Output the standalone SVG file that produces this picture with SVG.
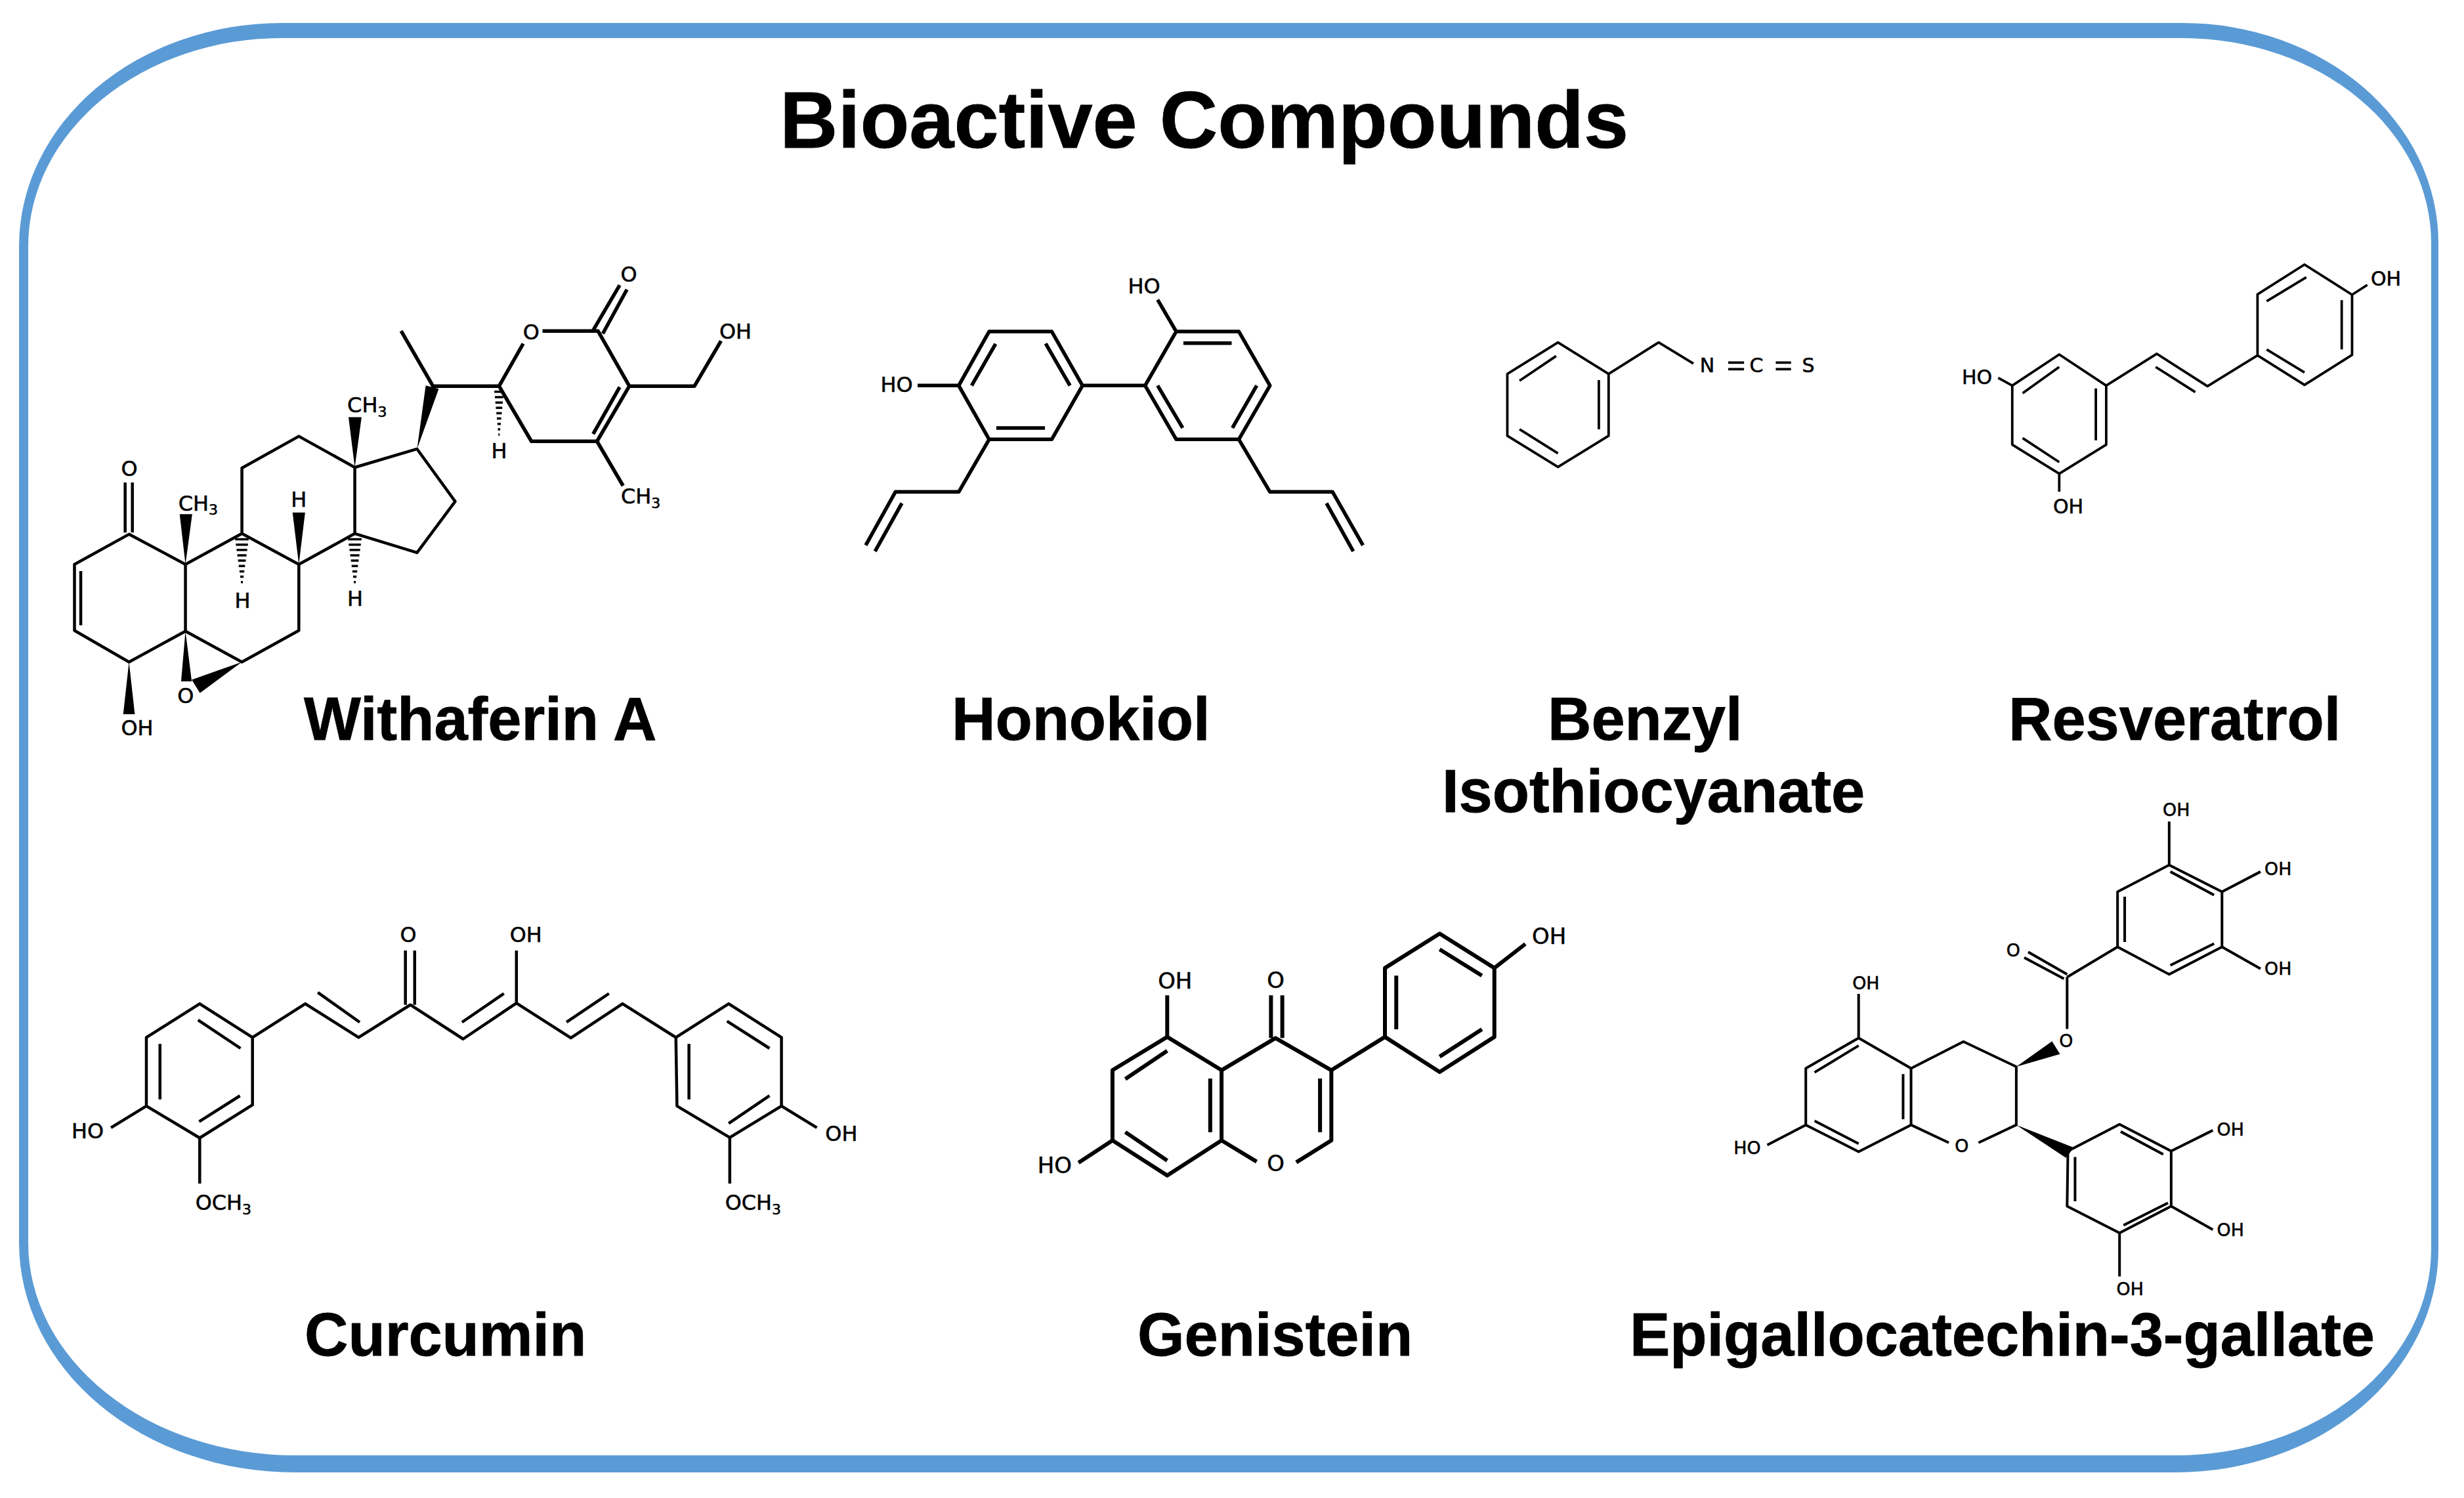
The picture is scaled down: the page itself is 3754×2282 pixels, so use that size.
<svg xmlns="http://www.w3.org/2000/svg" width="3754" height="2282" viewBox="0 0 3754 2282">
<style>
.b{fill:none;stroke:#000;stroke-width:4.5;stroke-linejoin:round;stroke-linecap:butt;vector-effect:non-scaling-stroke}
.w{fill:#000;stroke:none}
.a{font-family:"DejaVu Sans",sans-serif;fill:#000;stroke:#000;stroke-width:.6;text-anchor:middle}
.a30{font-size:30px}.a32{font-size:32px}.a34{font-size:34px}.a27{font-size:27px}
.st{text-anchor:start}
.s{font-size:22px}
.l{font-family:"Liberation Sans",Arial,sans-serif;font-weight:700;font-size:92px;fill:#000;stroke:#000;stroke-width:.8}
.t{font-family:"Liberation Sans",Arial,sans-serif;font-weight:700;font-size:122.500px;fill:#000;stroke:#000;stroke-width:.8}
</style>
<defs>
<path id="hash" class="b" style="stroke-width:3.5" d="M-14 17H14M-12.500 33H12.500M-11 49H11M-9.500 65H9.500M-8 81H8M-6.500 97H6.500M-5 113H5M-3.500 129H3.500M-2 145H2"/>
</defs>
<rect width="3754" height="2282" fill="#fff"/>
<path id="frame" fill="#5b9bd5" fill-rule="evenodd" d="M429 35H3325A390 335 0 0 1 3715 370V1903A400 340 0 0 1 3315 2243H449A420 350 0 0 1 29 1893V375A400 340 0 0 1 429 35ZM429 58A386 317 0 0 0 43 375V1893A406 324 0 0 0 449 2217H3315A389 314 0 0 0 3704 1903V370A379 312 0 0 0 3325 58Z"/>
<text id="title" class="t" x="1188" y="225">Bioactive Compounds</text>

<g id="withaferin-a">
<g transform="matrix(.9974 0 0 .993 -1.500 3)">
<g transform="translate(60 360) scale(.737 .513)">
<path class="b" d="M188 890L75 980V1178L188 1272L305 1180V980L188 890ZM305 980L422 888L540 980V1178L422 1272L305 1180M422 888V692L540 597L656 690V888L540 980M656 690L785 635L864 792L785 945L656 888M305 1180L422 1272M180 885V735M195 885V735M88 1000V1162"/>
<path class="w" d="M305 980L293 830H319ZM540 980L527 825H553ZM656 690L643 540H670ZM188 1272L176 1428H200ZM305 1180L296 1330H318ZM422 1272L318 1325L335 1365ZM785 635L803 445L830 455Z"/>
<use href="#hash" x="422" y="888"/><use href="#hash" x="656" y="888"/>
<g transform="translate(955 447) scale(.7 1)"><use href="#hash"/></g>
<path class="b" style="stroke-width:5.500" d="M752 282L818 447H955L1005 320M1045 282H1160L1225 447L1158 612H1022L955 447M1150 280L1205 145M1170 290L1220 158M1225 447H1360L1415 312M1205 450L1150 590M1160 282L1225 447M1158 612L1212 745"/>
</g>
<text class="a a32" x="199" y="727">O</text>
<text class="a a32 st" x="274" y="780">CH<tspan class="s" dy="7">3</tspan></text>
<text class="a a32" x="458" y="774">H</text>
<text class="a a32 st" x="532" y="629">CH<tspan class="s" dy="7">3</tspan></text>
<text class="a a32" x="372" y="930">H</text>
<text class="a a32" x="544" y="926">H</text>
<text class="a a32" x="764" y="700">H</text>
<text class="a a32" x="813" y="518">O</text>
<text class="a a32" x="962" y="429">O</text>
<text class="a a32" x="1125" y="517">OH</text>
<text class="a a32 st" x="950" y="769">CH<tspan class="s" dy="7">3</tspan></text>
<text class="a a32" x="285" y="1076">O</text>
<text class="a a32" x="211" y="1125">OH</text>
</g>
<text class="l" x="463" y="1127">Withaferin A</text>
</g>

<g id="honokiol">
<g transform="translate(-3 0)">
<g transform="translate(1280 380) scale(.545 .3333)">
<path class="b" style="stroke-width:5.500" d="M422 375H597L683 622L597 868H422L337 622ZM440 432L373 622M580 430L648 622M442 816H578M683 622H858M945 375H1120L1207 622L1120 868H945L858 622ZM965 428H1100M1170 622L1102 816M893 622L963 816M945 375L893 230M337 622H222M422 868L337 1108H160L77 1352M178 1160L103 1380M1120 868L1207 1108H1382L1467 1352M1365 1160L1440 1380"/>
</g>
<text class="a a32" x="1746" y="447">HO</text>
<text class="a a32" x="1369" y="597">HO</text>
</g>
<text class="l" x="1450" y="1127">Honokiol</text>
</g>

<g id="benzyl-isothiocyanate">
<g transform="translate(0 -1)">
<g transform="translate(2250 380) scale(.9295 .3333)">
<path class="b" style="stroke-width:3.800" d="M133 428L216 572V855L133 997L50 855V572ZM130 490L70 603M200 600V825M70 825L133 935M216 572L298 428L355 525M412 520H438M412 550H438M490 520H515M490 550H515"/>
</g>
<text class="a a30" x="2601" y="568">N</text>
<text class="a a30" x="2676" y="568">C</text>
<text class="a a30" x="2755" y="568">S</text>
</g>
<text class="l" x="2358" y="1127">Benzyl</text>
<text class="l" x="2197" y="1237">Isothiocyanate</text>
</g>

<g id="resveratrol">
<g transform="translate(-5 -1)">
<g transform="translate(2250 380) scale(.9295 .3333)">
<path class="b" style="stroke-width:3.800" d="M960 483L1037 625V895L960 1028L883 895V625ZM960 540L900 660M1020 638V875M900 865L960 975M1037 625L1120 480L1203 628L1285 487M1118 540L1183 655M1362 72L1440 210V485L1362 622L1285 487V208ZM1365 130L1300 240M1423 235V460M1300 460L1362 565M1440 210L1465 165M883 625L860 590M960 1028V1110"/>
</g>
<text class="a a30" x="3640" y="436">OH</text>
<text class="a a30" x="3017" y="586">HO</text>
<text class="a a30" x="3156" y="783">OH</text>
</g>
<text class="l" x="3060" y="1127">Resveratrol</text>
</g>

<g id="curcumin">
<g transform="matrix(.995 0 0 .9942 -1.700 6.300)">
<g transform="translate(80 1380) scale(.8333 .3333)">
<path class="b" d="M273 455L370 610V920L273 1072L175 925V610ZM270 530L348 660M200 640V895M272 997L347 878M370 610L467 455L565 610L660 460L757 617L855 452L955 612L1050 455L1148 610M490 403L567 540M755 540L832 408M947 540L1025 408M651 460V210M668 460V210M855 452V210M1148 610L1245 455L1342 610V925L1247 1070L1150 925ZM1242 535L1320 660M1172 640V895M1245 1005L1320 878M175 925L110 1025M273 1072V1282M1342 925L1407 1025M1247 1070V1282"/>
</g>
<text class="a a32" x="136" y="1738">HO</text>
<text class="a a32" x="1290" y="1742">OH</text>
<text class="a a32" x="627" y="1437">O</text>
<text class="a a32" x="807" y="1437">OH</text>
<text class="a a32 st" x="301" y="1847">OCH<tspan class="s" dy="7">3</tspan></text>
<text class="a a32 st" x="1112" y="1847">OCH<tspan class="s" dy="7">3</tspan></text>
</g>
<text class="l" x="464" y="2065">Curcumin</text>
</g>

<g id="genistein">
<g transform="matrix(.9964 0 0 1 3.700 -2)">
<g transform="translate(1560 1380) scale(.577 .3333)">
<path class="b" style="stroke-width:6" d="M383 605L527 757V1078L383 1238L238 1078V757ZM383 668L272 797M497 795V1040M383 1170L272 1040M527 757L670 610L818 757V1078L725 1178M527 1078L620 1175M788 795V1040M658 610V415M688 610V415M383 605V415M238 1078L148 1180M818 757L960 605V290L1105 133L1250 290V605L1105 765L960 605M990 325V570M1105 205L1217 325M1217 570L1105 695M1250 290L1332 180"/>
</g>
<text class="a a34" x="1793" y="1508">OH</text>
<text class="a a34" x="1947" y="1507">O</text>
<text class="a a34" x="2365" y="1440">OH</text>
<text class="a a34" x="1609" y="1789">HO</text>
<text class="a a34" x="1947" y="1786">O</text>
</g>
<text class="l" x="1733" y="2065">Genistein</text>
</g>

<g id="epigallocatechin-3-gallate">
<g transform="matrix(.9935 0 0 .9935 17.300 5.700)">
<g transform="translate(2630 1200) scale(.609 .513)">
<path class="b" style="stroke-width:4" d="M333 752L465 843V1012L333 1092L200 1012V843ZM333 775L222 855M445 860V995M333 1068L222 1000M465 843L597 763L730 838V1012L635 1065M465 1012L560 1065M858 725V570M858 562L760 495M850 575L750 512M858 570L985 480V315L1115 235L1248 315V480L1115 562L985 480M1003 465V330M1118 255L1228 325M1228 470L1118 535M1115 235V105M1248 315L1345 255M1248 480L1345 545M333 752V620M200 1012L103 1072M860 1090L990 1010L1120 1090V1255L990 1335L858 1255ZM878 1108V1240M993 1032L1100 1100M1000 1312L1112 1245M1120 1090L1225 1028M1120 1255L1225 1325M990 1335V1465"/>
<path class="w" d="M730 838L820 762L840 800ZM730 1012L855 1110L875 1080Z"/>
</g>
<text class="a a27" x="3320" y="1245">OH</text>
<text class="a a27" x="3476" y="1336">OH</text>
<text class="a a27" x="3476" y="1489">OH</text>
<text class="a a27" x="3070" y="1461">O</text>
<text class="a a27" x="3151" y="1600">O</text>
<text class="a a27" x="2844" y="1511">OH</text>
<text class="a a27" x="2662" y="1764">HO</text>
<text class="a a27" x="2991" y="1761">O</text>
<text class="a a27" x="3403" y="1736">OH</text>
<text class="a a27" x="3403" y="1890">OH</text>
<text class="a a27" x="3249" y="1980">OH</text>
</g>
<text class="l" x="2483" y="2065">Epigallocatechin-3-gallate</text>
</g>
</svg>
